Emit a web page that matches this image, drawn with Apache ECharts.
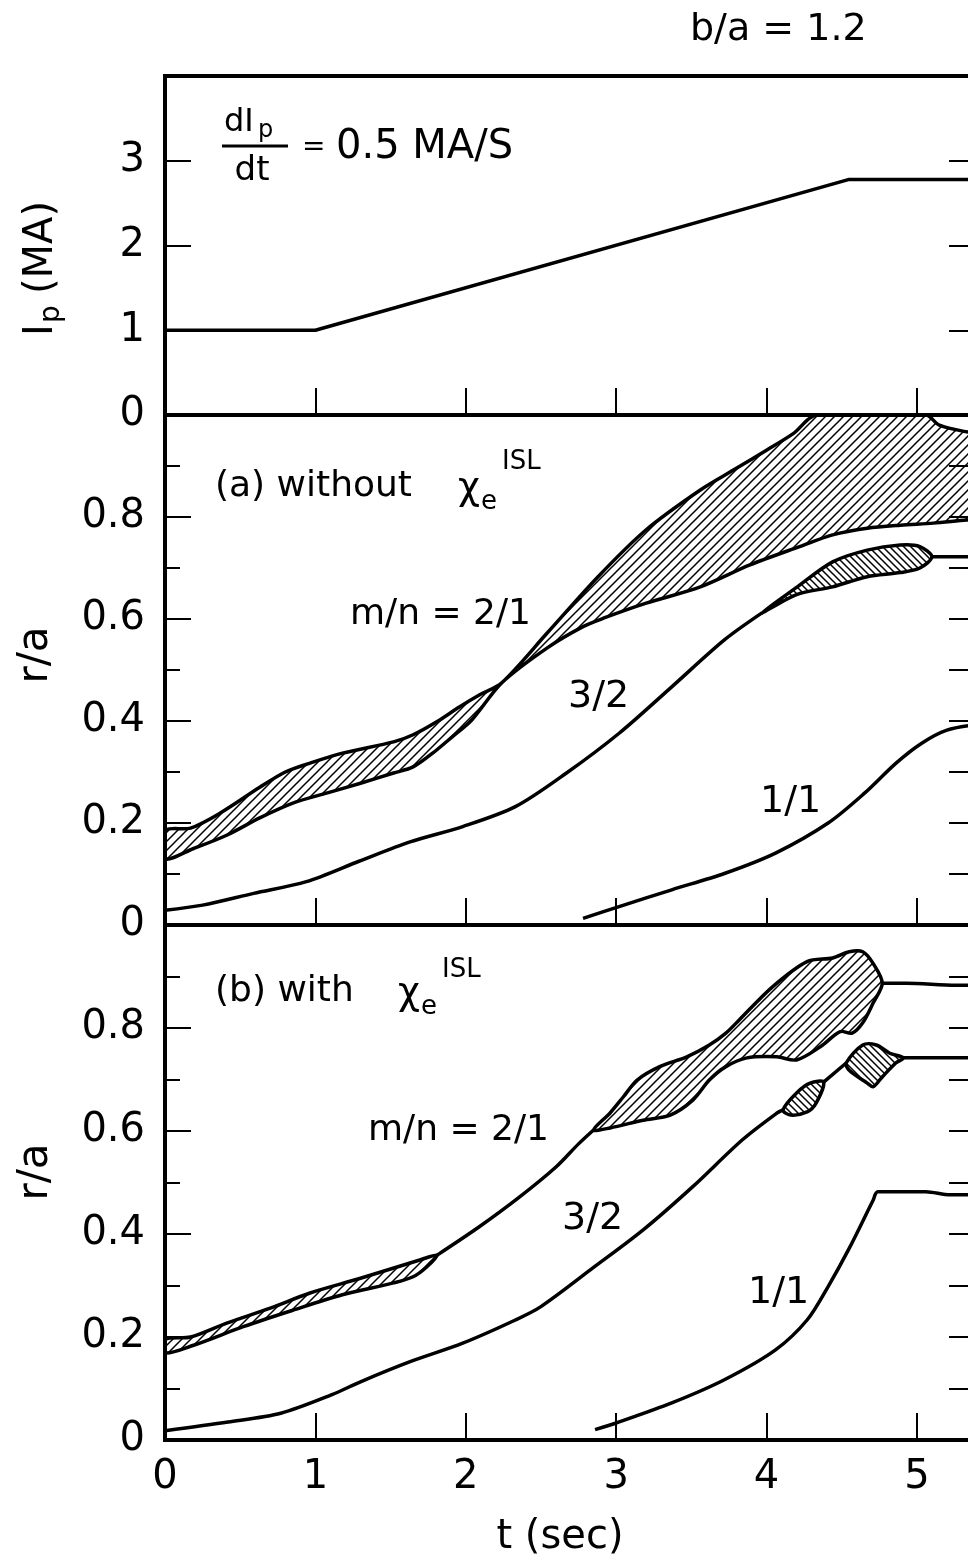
<!DOCTYPE html>
<html>
<head>
<meta charset="utf-8">
<script src="https://cdn.jsdelivr.net/npm/echarts@6/dist/echarts.min.js"></script>
<style>html,body{margin:0;padding:0;background:#fff}#c{width:968px;height:1560px}</style>
</head>
<body>
<div id="c"></div>
<script>
// ---------------- DATA ----------------
// Top panel: plasma current Ip (MA) vs t (sec)
const ipT = [0, 1.0, 4.55, 5.4];
const ipV = [1.0, 1.0, 2.78, 2.78];

// Panel (a) without chi_e^ISL
const a21UpT = [0, 0.17, 0.37, 0.63, 0.80, 0.96, 1.18, 1.52, 1.65, 1.81, 1.96, 2.09, 2.24, 2.54, 2.88, 3.20, 3.56, 3.78, 4.00, 4.18, 4.33, 5.06, 5.15, 5.33, 5.40];
const a21UpR = [0.185, 0.19, 0.22, 0.27, 0.30, 0.317, 0.337, 0.359, 0.373, 0.399, 0.428, 0.451, 0.475, 0.572, 0.683, 0.775, 0.853, 0.892, 0.931, 0.964, 1.0, 1.0, 0.98, 0.967, 0.966];
const a21LoT = [0, 0.19, 0.41, 0.63, 0.85, 1.08, 1.30, 1.52, 1.65, 1.78, 1.91, 2.04, 2.24, 2.54, 2.78, 2.92, 3.20, 3.56, 3.89, 4.22, 4.44, 4.67, 4.89, 5.11, 5.33, 5.40];
const a21LoR = [0.13, 0.15, 0.176, 0.21, 0.239, 0.259, 0.278, 0.298, 0.31, 0.337, 0.369, 0.402, 0.475, 0.543, 0.585, 0.602, 0.631, 0.663, 0.706, 0.742, 0.765, 0.778, 0.784, 0.788, 0.794, 0.795];

const a32T = [0, 0.25, 0.59, 0.94, 1.29, 1.63, 1.98, 2.33, 2.67, 3.02, 3.37, 3.72, 3.97];
const a32R = [0.029, 0.039, 0.062, 0.085, 0.125, 0.163, 0.193, 0.232, 0.298, 0.376, 0.467, 0.559, 0.612];
const a32IsUpT = [3.97, 4.20, 4.44, 4.67, 4.89, 5.02, 5.10];
const a32IsUpR = [0.612, 0.662, 0.712, 0.735, 0.745, 0.742, 0.722];
const a32IsLoT = [3.97, 4.20, 4.44, 4.67, 4.89, 5.02, 5.10];
const a32IsLoR = [0.612, 0.648, 0.663, 0.683, 0.691, 0.700, 0.722];
const a32PostT = [5.10, 5.40];
const a32PostR = [0.722, 0.722];

const a11T = [2.78, 3.02, 3.37, 3.72, 4.06, 4.41, 4.65, 4.86, 5.03, 5.20, 5.40];
const a11R = [0.013, 0.036, 0.069, 0.101, 0.141, 0.200, 0.258, 0.317, 0.356, 0.382, 0.393];

// Panel (b) with chi_e^ISL
const b21aUpT = [0, 0.17, 0.41, 0.70, 0.96, 1.30, 1.70, 1.81];
const b21aUpR = [0.195, 0.200, 0.227, 0.256, 0.285, 0.314, 0.350, 0.359];
const b21aLoT = [0, 0.19, 0.52, 0.85, 1.18, 1.52, 1.65, 1.74, 1.81];
const b21aLoR = [0.169, 0.184, 0.220, 0.252, 0.282, 0.305, 0.317, 0.336, 0.359];
const b21MidT = [1.81, 2.09, 2.35, 2.60, 2.75, 2.85];
const b21MidR = [0.359, 0.414, 0.470, 0.530, 0.575, 0.602];
const b21IsUpT = [2.85, 2.96, 3.05, 3.14, 3.29, 3.47, 3.62, 3.73, 3.82, 4.04, 4.27, 4.44, 4.55, 4.64, 4.71, 4.77];
const b21IsUpR = [0.602, 0.635, 0.667, 0.699, 0.725, 0.744, 0.767, 0.790, 0.816, 0.880, 0.929, 0.936, 0.948, 0.948, 0.925, 0.887];
const b21IsLoT = [2.85, 2.96, 3.18, 3.36, 3.51, 3.62, 3.73, 3.87, 4.07, 4.20, 4.36, 4.49, 4.57, 4.64, 4.71, 4.77];
const b21IsLoR = [0.602, 0.606, 0.621, 0.631, 0.660, 0.699, 0.725, 0.742, 0.744, 0.738, 0.764, 0.793, 0.790, 0.810, 0.849, 0.887];
const b21PostT = [4.77, 4.93, 5.26, 5.40];
const b21PostR = [0.887, 0.887, 0.883, 0.883];

const b32T = [0, 0.42, 0.77, 1.11, 1.30, 1.63, 1.98, 2.33, 2.50, 2.85, 3.18, 3.51, 3.84, 4.07, 4.11];
const b32R = [0.018, 0.035, 0.052, 0.088, 0.113, 0.152, 0.188, 0.233, 0.259, 0.335, 0.408, 0.492, 0.583, 0.635, 0.641];
const b32Is1UpT = [4.11, 4.20, 4.29, 4.38];
const b32Is1UpR = [0.641, 0.674, 0.693, 0.695];
const b32Is1LoT = [4.11, 4.16, 4.27, 4.33, 4.38];
const b32Is1LoR = [0.641, 0.631, 0.637, 0.654, 0.695];
const b32MidT = [4.38, 4.53];
const b32MidR = [0.695, 0.732];
const b32Is2UpT = [4.53, 4.64, 4.73, 4.82, 4.91];
const b32Is2UpR = [0.732, 0.767, 0.767, 0.751, 0.742];
const b32Is2LoT = [4.53, 4.55, 4.67, 4.71, 4.77, 4.86, 4.91];
const b32Is2LoR = [0.732, 0.718, 0.693, 0.686, 0.705, 0.732, 0.742];
const b32PostT = [4.91, 5.40];
const b32PostR = [0.742, 0.742];

const b11T = [2.86, 3.00, 3.37, 3.72, 4.06, 4.27, 4.41, 4.55, 4.71, 4.74, 5.06, 5.22, 5.40];
const b11R = [0.020, 0.033, 0.072, 0.117, 0.175, 0.233, 0.298, 0.372, 0.466, 0.482, 0.482, 0.476, 0.476];

// Axis tick values
const xTicks = [0, 1, 2, 3, 4, 5];

// ---------------- RENDERING ----------------
const FONT = "'DejaVu Sans', 'Liberation Sans', sans-serif";
const chart = echarts.init(document.getElementById('c'), null, {renderer: 'canvas', width: 968, height: 1560});

function hatch(size, dir, lw) {
  const c = document.createElement('canvas');
  c.width = size; c.height = size;
  const g = c.getContext('2d');
  g.strokeStyle = '#000'; g.lineWidth = lw; g.lineCap = 'square';
  g.beginPath();
  if (dir > 0) {
    g.moveTo(-1, size + 1); g.lineTo(size + 1, -1);
    g.moveTo(-2, 2); g.lineTo(2, -2);
    g.moveTo(size - 2, size + 2); g.lineTo(size + 2, size - 2);
  } else {
    g.moveTo(-1, -1); g.lineTo(size + 1, size + 1);
    g.moveTo(size - 2, -2); g.lineTo(size + 2, 2);
    g.moveTo(-2, size - 2); g.lineTo(2, size + 2);
  }
  g.stroke();
  return {image: c, repeat: 'repeat'};
}
const hatchA = hatch(9, 1, 1.5);
const hatchB = hatch(7, -1, 1.5);

function pairs(T, R) { return T.map((t, k) => [t, R[k]]); }

function lineSeries(i, T, R, smooth) {
  return {
    type: 'line', xAxisIndex: i, yAxisIndex: i, data: pairs(T, R),
    symbol: 'none', showSymbol: false, smooth: smooth === undefined ? 0.3 : smooth,
    lineStyle: {color: '#000', width: 3.5}, clip: true, silent: true, z: 4, animation: false
  };
}

function bandSeries(i, upT, upR, loT, loR, fill) {
  return {
    type: 'custom', xAxisIndex: i, yAxisIndex: i, coordinateSystem: 'cartesian2d',
    data: [[upT[0], upR[0]]], clip: true, silent: true, z: 3, animation: false,
    renderItem: function (params, api) {
      const raw = [];
      for (let k = 0; k < upT.length; k++) raw.push(api.coord([upT[k], upR[k]]));
      for (let k = loT.length - 1; k >= 0; k--) raw.push(api.coord([loT[k], loR[k]]));
      const pts = [];
      raw.forEach(p => {
        const last = pts[pts.length - 1];
        if (!last || Math.abs(last[0] - p[0]) > 0.5 || Math.abs(last[1] - p[1]) > 0.5) pts.push(p);
      });
      const f = pts[0], l = pts[pts.length - 1];
      if (Math.abs(f[0] - l[0]) < 0.5 && Math.abs(f[1] - l[1]) < 0.5) pts.pop();
      return {
        type: 'polygon',
        shape: {points: pts, smooth: 0.3},
        style: {fill: fill, stroke: '#000', lineWidth: 3.5, lineJoin: 'round'}
      };
    }
  };
}

const grids = [
  {left: 165, top: 76, width: 812, height: 339},
  {left: 165, top: 415, width: 812, height: 510},
  {left: 165, top: 925, width: 812, height: 515}
].map(g => Object.assign(g, {show: true, borderColor: '#000', borderWidth: 4, backgroundColor: 'transparent', containLabel: false, outerBoundsMode: 'none'}));

const xAxes = [0, 1, 2].map(i => ({
  type: 'value', gridIndex: i, min: 0, max: 5.4, interval: 1,
  axisLine: {show: true, onZero: false, lineStyle: {color: '#000', width: 4}},
  axisTick: {show: true, inside: true, length: 27, lineStyle: {color: '#000', width: 2}},
  axisLabel: {
    show: i === 2, color: '#000', fontSize: 40, fontFamily: FONT, margin: 18,
    formatter: v => (xTicks.indexOf(Math.round(v * 1000) / 1000) >= 0 ? String(Math.round(v)) : '')
  },
  splitLine: {show: false}
}));

const yCfg = [{max: 4, interval: 1, minor: false, rint: 1}, {max: 1, interval: 0.2, minor: true, rint: 0.1}, {max: 1, interval: 0.2, minor: true, rint: 0.1}];
const yLeft = yCfg.map((c, i) => ({
  type: 'value', gridIndex: i, position: 'left', min: 0, max: c.max, interval: c.interval,
  axisLine: {show: true, onZero: false, lineStyle: {color: '#000', width: 4}},
  axisTick: {show: true, inside: true, length: 26, lineStyle: {color: '#000', width: 2}},
  minorTick: {show: c.minor, splitNumber: 2, length: 15, lineStyle: {color: '#000', width: 2}},
  axisLabel: {color: '#000', fontSize: 40, fontFamily: FONT, margin: 20, showMaxLabel: false},
  splitLine: {show: false}, minorSplitLine: {show: false}
}));
const yRight = yCfg.map((c, i) => ({
  type: 'value', gridIndex: i, position: 'right', min: 0, max: c.max, interval: c.rint,
  axisLine: {show: false, onZero: false},
  axisTick: {show: true, inside: true, length: 28, lineStyle: {color: '#000', width: 2}},
  axisLabel: {show: false}, splitLine: {show: false}
}));

function t(x, y, text, size, align, extra) {
  return Object.assign({
    type: 'text', x: x, y: y, z: 20, silent: true,
    style: {text: text, fill: '#000', fontSize: size, fontFamily: FONT,
      font: size + 'px ' + FONT,
      textAlign: align || 'left', align: align || 'left',
      textVerticalAlign: 'middle', verticalAlign: 'middle'}
  }, extra || {});
}

const graphics = [
  t(690, 30, 'b/a = 1.2', 38),
  // dIp/dt = 0.5 MA/S
  t(224, 123, 'dI', 32),
  t(258, 131, 'p', 24),
  {type: 'line', z: 20, silent: true, shape: {x1: 222, y1: 146, x2: 288, y2: 146}, style: {stroke: '#000', lineWidth: 3}},
  t(252, 171, 'dt', 34, 'center'),
  t(302, 148, '=', 28),
  t(336, 148, '0.5 MA/S', 40),
  // axis titles
  {type: 'group', x: 42, y: 262, rotation: Math.PI / 2, z: 20, children: [
    t(-74, 0, 'I', 40), t(-61, 10, 'p', 28), t(-32, 0, '(MA)', 40)
  ]},
  t(36, 655, 'r/a', 42, 'center', {rotation: Math.PI / 2}),
  t(36, 1172, 'r/a', 42, 'center', {rotation: Math.PI / 2}),
  t(560, 1538, 't (sec)', 40, 'center'),
  // panel (a)
  t(215, 487, '(a) without', 36),
  t(458, 489, 'χ', 38),
  t(481, 502, 'e', 26),
  t(502, 462, 'ISL', 26),
  t(350, 615, 'm/n = 2/1', 36),
  t(568, 697, '3/2', 38),
  t(760, 802, '1/1', 38),
  // panel (b)
  t(215, 992, '(b) with', 36),
  t(398, 994, 'χ', 38),
  t(421, 1007, 'e', 26),
  t(442, 970, 'ISL', 26),
  t(368, 1131, 'm/n = 2/1', 36),
  t(562, 1219, '3/2', 38),
  t(748, 1293, '1/1', 38)
];

const series = [
  lineSeries(0, ipT, ipV, false),
  bandSeries(1, a21UpT, a21UpR, a21LoT, a21LoR, hatchA),
  lineSeries(1, a32T, a32R),
  bandSeries(1, a32IsUpT, a32IsUpR, a32IsLoT, a32IsLoR, hatchB),
  lineSeries(1, a32PostT, a32PostR),
  lineSeries(1, a11T, a11R),
  bandSeries(2, b21aUpT, b21aUpR, b21aLoT, b21aLoR, hatchA),
  lineSeries(2, b21MidT, b21MidR),
  bandSeries(2, b21IsUpT, b21IsUpR, b21IsLoT, b21IsLoR, hatchA),
  lineSeries(2, b21PostT, b21PostR),
  lineSeries(2, b32T, b32R),
  bandSeries(2, b32Is1UpT, b32Is1UpR, b32Is1LoT, b32Is1LoR, hatchB),
  lineSeries(2, b32MidT, b32MidR),
  bandSeries(2, b32Is2UpT, b32Is2UpR, b32Is2LoT, b32Is2LoR, hatchB),
  lineSeries(2, b32PostT, b32PostR),
  lineSeries(2, b11T, b11R)
];

chart.setOption({
  animation: false,
  backgroundColor: '#fff',
  grid: grids,
  xAxis: xAxes,
  yAxis: yLeft.concat(yRight),
  series: series,
  graphic: {elements: graphics}
});
</script>
</body>
</html>
